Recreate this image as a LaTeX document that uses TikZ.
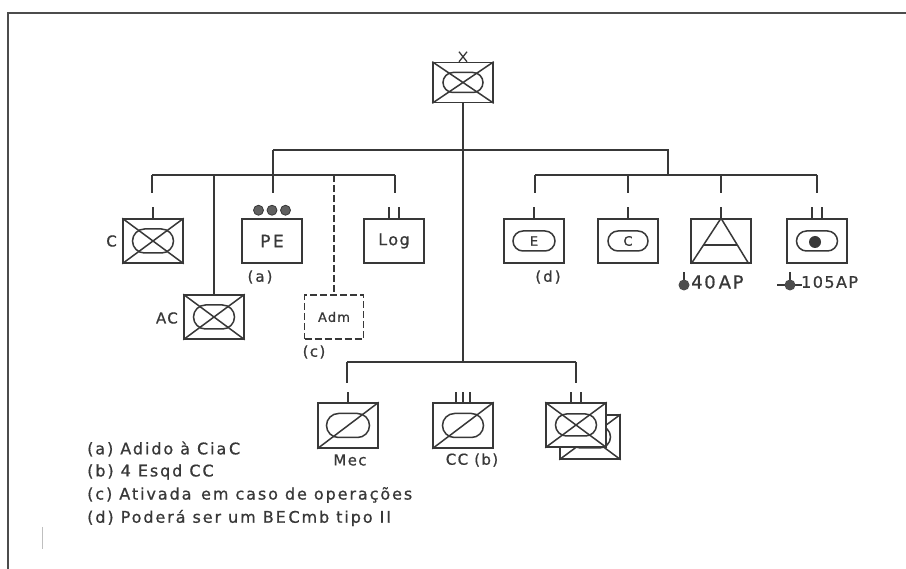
\documentclass[tikz,border=0pt]{standalone}
\usepackage{fontspec}
\setmainfont{DejaVu Sans}[LetterSpace=9, FakeBold=0.8]
\newfontfamily\legfont{DejaVu Sans}[LetterSpace=12, FakeBold=0.8]
\usetikzlibrary{shapes.misc,calc}
\definecolor{ink}{HTML}{383838}
\tikzset{
  ln/.style={line width=1.5pt, draw=ink},
  unit/.style={draw=ink, line width=1.5pt, fill=white, minimum width=60pt, minimum height=44pt, inner sep=0pt, text=ink, font=\fontsize{16}{16}\selectfont},
  stad/.style={draw=ink, line width=1.5pt, rounded rectangle, minimum width=42pt, minimum height=21pt, inner sep=0pt, text=ink, font=\fontsize{13}{13}\selectfont},
  lbl/.style={text=ink, inner sep=0pt, font=\fontsize{15}{15}\selectfont},
  leg/.style={text=ink, inner sep=0pt, anchor=west, font=\legfont\fontsize{16}{16}\selectfont},
  dot/.style={fill=ink!80, draw=ink, line width=0.8pt}
}
\begin{document}
\begin{tikzpicture}[x=1pt,y=-1pt]
\useasboundingbox (0,0) rectangle (906,569);
% frame
\draw[line width=1.8pt, draw=ink!90] (8,569) -- (8,13) -- (906,13);
\draw[line width=0.6pt, draw=black!25] (42,527) -- (42,549);

% ---------- top unit ----------
\node[unit, minimum height=40pt] (X) at (463,82.5) {};
\node[stad, minimum width=40pt, minimum height=20pt] (Xs) at (X) {};
\draw[ln] (X.north west) -- (X.south east) (X.north east) -- (X.south west);
\draw[ln, line width=1.3pt] ($(X.north)+(-4,-10)$) -- ++(8,10) ($(X.north)+(4,-10)$) -- ++(-8,10);

% ---------- branch coordinates ----------
\coordinate (ul) at (273,150);
\coordinate (ur) at (668,150);
\coordinate (rb) at (668,175);
\coordinate (lbA) at (152,175);
\coordinate (lbB) at (395,175);
\coordinate (rbA) at (535,175);
\coordinate (rbB) at (817,175);
\coordinate (bb) at (463,362);
\coordinate (bbA) at (347,362);
\coordinate (bbB) at (576,362);

\draw[ln] (X.south) -- (bb);
\draw[ln] (ul) -- (ur) -- (rb);
\draw[ln] (lbA) -- (lbB);
\draw[ln] (rbA) -- (rbB);
\draw[ln] (bbA) -- (bbB);

% ---------- left group ----------
\node[unit] (C) at (153,241) {};
\node[stad, minimum width=41pt, minimum height=24pt] at (C) {};
\draw[ln] (C.north west) -- (C.south east) (C.north east) -- (C.south west);
\draw[ln] (lbA) -- ++(0,18);
\draw[ln] (C.north) -- ++(0,-11);
\node[lbl, anchor=east] at (117,241) {C};

\node[unit] (AC) at (214,317) {};
\node[stad, minimum width=41pt, minimum height=24pt] at (AC) {};
\draw[ln] (AC.north west) -- (AC.south east) (AC.north east) -- (AC.south west);
\draw[ln] (AC.north |- lbA) -- (AC.north);
\node[lbl, anchor=east] at (178,318) {AC};

\node[unit, font=\fontsize{17}{17}\selectfont] (PE) at (272,241) {P\hspace{2.5pt}E};
\draw[ln] (ul) -- ($(ul)+(0,43)$);
\foreach \dx in {-13.5,0,13.5}
  \draw[dot] ($(PE.north)+(\dx,-8)$) circle (5pt);
\node[lbl] at (260,277) {(\hspace{2pt}a\hspace{2pt})};

\node[unit, dash pattern=on 7pt off 3pt, minimum width=59pt, font=\fontsize{13}{13}\selectfont] (Adm) at (334,317) {Adm};
\draw[ln, dash pattern=on 7pt off 3pt] (Adm.north |- lbA) -- (Adm.north);
\node[lbl] at (314,352) {(c)};

\node[unit] (Log) at (394,241) {Log};
\draw[ln] (lbB) -- ++(0,18);
\draw[ln] ($(Log.north)+(-5,0)$) -- ++(0,-11) ($(Log.north)+(5,0)$) -- ++(0,-11);

% ---------- right group ----------
\draw[ln] (rbA) -- ++(0,18);
\node[unit] (E) at (534,241) {};
\node[stad, minimum width=42pt, minimum height=20pt] at (E) {E};
\draw[ln] (E.north) -- ++(0,-11);
\node[lbl] at (548,277) {(\hspace{2pt}d\hspace{2pt})};

\node[unit] (Cc) at (628,241) {};
\node[stad, minimum width=40pt, minimum height=20pt] at (Cc) {C};
\draw[ln] (Cc.north |- rbA) -- ++(0,18);
\draw[ln] (Cc.north) -- ++(0,-11);

\node[unit] (Art) at (721,241) {};
\draw[ln] (Art.north |- rbA) -- ++(0,18);
\draw[ln] (Art.north) -- ++(0,-11);
\draw[ln, line join=round] (Art.north) -- ($(Art.south west)+(1,0)$) (Art.north) -- ($(Art.south east)+(-3,0)$);
\draw[ln] ($(Art.north)!0.59!(Art.south west)$) -- ($(Art.north)!0.59!($(Art.south east)+(-3,0)$)$);
\coordinate (ap40) at (684,285);
\draw[ln] (ap40) -- ++(0,-13);
\fill[ink!90] (ap40) circle (5.5pt);
\node[lbl, anchor=west, font=\fontsize{18}{18}\selectfont] (t40) at (691,282) {40\hspace{3pt}AP};

\node[unit] (H) at (817,241) {};
\node[stad, minimum width=41pt, minimum height=20pt] (Hs) at (H) {};
\fill[ink] ($(H)+(-2,1)$) circle (6pt);
\draw[ln] (rbB) -- ++(0,18);
\draw[ln] ($(H.north)+(-5,0)$) -- ++(0,-11) ($(H.north)+(5,0)$) -- ++(0,-11);
\coordinate (ap105) at (790,285);
\draw[ln] ($(ap105)+(-13,0)$) -- ($(ap105)+(12,0)$);
\draw[ln] (ap105) -- ++(0,-13);
\fill[ink!90] (ap105) circle (5.5pt);
\node[lbl, anchor=west, font=\fontsize{16}{16}\selectfont] (t105) at (801,282) {105AP};

% ---------- bottom group ----------
\node[unit, minimum height=45pt] (Mec) at (348,425.5) {};
\node[stad, minimum width=43pt, minimum height=24pt] at (Mec) {};
\draw[ln] (Mec.south west) -- (Mec.north east);
\draw[ln] (bbA) -- ++(0,21);
\draw[ln] (Mec.north) -- ++(0,-10);
\node[lbl] at (350,460) {Mec};

\node[unit, minimum height=45pt] (CC) at (463,425.5) {};
\node[stad, minimum width=41pt, minimum height=24pt] at (CC) {};
\draw[ln] (CC.south west) -- (CC.north east);
\foreach \dx in {-7,0,7}
  \draw[ln] ($(CC.north)+(\dx,0)$) -- ++(0,-10);
\node[lbl] at (472,460) {CC (b)};

\node[unit] (Bk) at (590,437) {};
\node[stad, minimum width=41pt, minimum height=22pt] at (Bk) {};
\draw[ln] (Bk.north west) -- (Bk.south east) (Bk.north east) -- (Bk.south west);
\node[unit] (Fr) at (576,425) {};
\node[stad, minimum width=41pt, minimum height=22pt] at (Fr) {};
\draw[ln] (Fr.north west) -- (Fr.south east) (Fr.north east) -- (Fr.south west);
\draw[ln] (bbB) -- ++(0,21);
\draw[ln] ($(Fr.north)+(-5,0)$) -- ++(0,-10) ($(Fr.north)+(5,0)$) -- ++(0,-10);

% ---------- legend ----------
\node[leg] (la) at (87,449) {(a) Adido à Cia\,C};
\node[leg] (lb) at (87,472) {(b) 4 Esqd CC};
\node[leg] (lc) at (87,495) {(c) Ativada\, em caso de operações};
\node[leg] (ld) at (87,518) {(d) Poderá ser um BE\,Cmb tipo II};
\end{tikzpicture}
\end{document}
